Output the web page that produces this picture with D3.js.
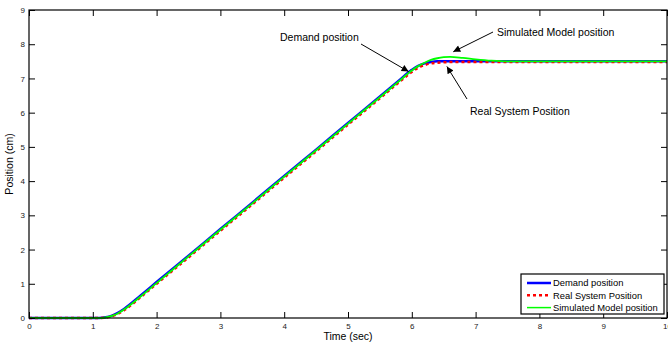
<!DOCTYPE html>
<html>
<head>
<meta charset="utf-8">
<script src="https://cdn.jsdelivr.net/npm/d3@7"></script>
<style>
  body { margin: 0; background: #fff; }
  svg { font-family: "Liberation Sans", Arial, sans-serif; }
</style>
</head>
<body>
<div id="chart"></div>
<script>
// Data
var time = [0, 0.5, 1, 1.1, 1.2, 1.3, 1.4, 1.5, 1.75, 2, 2.5, 3, 3.5, 4, 4.5, 5, 5.5, 5.8, 6, 6.1, 6.2, 6.3, 6.4, 6.5, 6.6, 6.8, 7, 7.25, 7.5, 8, 9, 10];
var demand = [0, 0, 0, 0, 0.02, 0.07, 0.16, 0.28, 0.66, 1.05, 1.82, 2.6, 3.37, 4.15, 4.92, 5.7, 6.47, 6.94, 7.25, 7.37, 7.44, 7.48, 7.5, 7.5, 7.5, 7.5, 7.5, 7.5, 7.5, 7.5, 7.5, 7.5];
var realSys = [0, 0, 0, 0, 0.01, 0.05, 0.13, 0.24, 0.61, 1.0, 1.77, 2.55, 3.32, 4.1, 4.87, 5.65, 6.42, 6.89, 7.19, 7.31, 7.39, 7.44, 7.46, 7.47, 7.48, 7.48, 7.48, 7.48, 7.48, 7.48, 7.48, 7.48];
var simModel = [0, 0, 0, 0, 0.015, 0.06, 0.14, 0.26, 0.63, 1.02, 1.8, 2.58, 3.35, 4.13, 4.9, 5.68, 6.45, 6.92, 7.23, 7.36, 7.46, 7.54, 7.59, 7.62, 7.63, 7.6, 7.56, 7.52, 7.5, 7.5, 7.5, 7.5];
var xTicks = [0, 1, 2, 3, 4, 5, 6, 7, 8, 9, 10];
var yTicks = [0, 1, 2, 3, 4, 5, 6, 7, 8, 9];
var legendNames = ["Demand position", "Real System Position", "Simulated Model position"];

var svgWidth = 668;
var svgHeight = 343;
var margin = { top: 10, right: 1, bottom: 25, left: 29 };
var width = svgWidth - margin.left - margin.right;
var height = svgHeight - margin.top - margin.bottom;

var svg = d3.select("#chart").append("svg")
  .attr("width", svgWidth)
  .attr("height", svgHeight);

var g = svg.append("g")
  .attr("transform", `translate(${margin.left}, ${margin.top})`);

var x = d3.scaleLinear().domain([0, 10]).range([0, width]);
var y = d3.scaleLinear().domain([0, 9]).range([height, 0]);

// series
var series = [
  { vals: demand, color: "#0000ff", w: 2.5, dash: null },
  { vals: realSys, color: "#ff0000", w: 2.5, dash: "3,3" },
  { vals: simModel, color: "#00ff00", w: 1.8, dash: null }
];

var line = d3.line()
  .x((d, i) => x(time[i]))
  .y(d => y(d))
  .curve(d3.curveMonotoneX);

series.forEach(function(s) {
  g.append("path")
    .datum(s.vals)
    .attr("fill", "none")
    .attr("stroke", s.color)
    .attr("stroke-width", s.w)
    .attr("stroke-dasharray", s.dash)
    .attr("d", line);
});

// axes with inward ticks, mirrored on top and right
function styleAxis(sel) {
  sel.select(".domain").remove();
  sel.selectAll("line").attr("stroke", "#000");
  sel.selectAll("text").attr("fill", "#222").style("font-size", "8px");
}
g.append("g")
  .attr("transform", `translate(0, ${height})`)
  .call(d3.axisBottom(x).tickValues(xTicks).tickSizeInner(-6).tickSizeOuter(0).tickPadding(5))
  .call(styleAxis);
g.append("g")
  .call(d3.axisLeft(y).tickValues(yTicks).tickSizeInner(-6).tickSizeOuter(0).tickPadding(4))
  .call(styleAxis);
g.append("g")
  .call(d3.axisTop(x).tickValues(xTicks).tickSizeInner(-6).tickFormat(""))
  .call(styleAxis);
g.append("g")
  .attr("transform", `translate(${width}, 0)`)
  .call(d3.axisRight(y).tickValues(yTicks).tickSizeInner(-6).tickFormat(""))
  .call(styleAxis);

g.append("rect")
  .attr("width", width)
  .attr("height", height)
  .attr("fill", "none")
  .attr("stroke", "#000")
  .attr("stroke-width", 1.2);

// axis labels
svg.append("text")
  .attr("x", margin.left + width / 2)
  .attr("y", 340)
  .attr("text-anchor", "middle")
  .style("font-size", "10.5px")
  .text("Time (sec)");
svg.append("text")
  .attr("transform", `translate(13, ${margin.top + height / 2}) rotate(-90)`)
  .attr("text-anchor", "middle")
  .style("font-size", "10.5px")
  .text("Position (cm)");

// annotations with arrows
svg.append("defs").append("marker")
  .attr("id", "arrow")
  .attr("viewBox", "0 0 10 10")
  .attr("refX", 10).attr("refY", 5)
  .attr("markerWidth", 9).attr("markerHeight", 7)
  .attr("markerUnits", "userSpaceOnUse")
  .attr("orient", "auto")
  .append("path").attr("d", "M0,0L10,5L0,10z").attr("fill", "#000");

var notes = [
  { text: legendNames[0], tx: 280, ty: 41, x1: 361, y1: 44, t: 5.95, v: 7.2 },
  { text: legendNames[2], tx: 497, ty: 36, x1: 493, y1: 32, t: 6.65, v: 7.78 },
  { text: legendNames[1], tx: 470, ty: 115, x1: 467, y1: 99, t: 6.55, v: 7.35 }
];
notes.forEach(function(n) {
  svg.append("text")
    .attr("x", n.tx).attr("y", n.ty)
    .style("font-size", "10.5px")
    .text(n.text);
  svg.append("line")
    .attr("x1", n.x1).attr("y1", n.y1)
    .attr("x2", margin.left + x(n.t)).attr("y2", margin.top + y(n.v))
    .attr("stroke", "#000").attr("stroke-width", 1)
    .attr("marker-end", "url(#arrow)");
});

// legend
var legend = svg.append("g").attr("transform", "translate(521, 274)");
legend.append("rect")
  .attr("width", 143).attr("height", 40)
  .attr("fill", "#fff")
  .attr("stroke", "#000").attr("stroke-width", 1.2);
legendNames.forEach(function(name, i) {
  var s = series[i];
  var yy = 9 + i * 12.3;
  legend.append("line")
    .attr("x1", 6).attr("x2", 30)
    .attr("y1", yy).attr("y2", yy)
    .attr("stroke", s.color)
    .attr("stroke-width", i == 2 ? 1.5 : 2.5)
    .attr("stroke-dasharray", s.dash);
  legend.append("text")
    .attr("x", 32).attr("y", yy + 3.3)
    .style("font-size", "9.4px")
    .text(name);
});
</script>
</body>
</html>
